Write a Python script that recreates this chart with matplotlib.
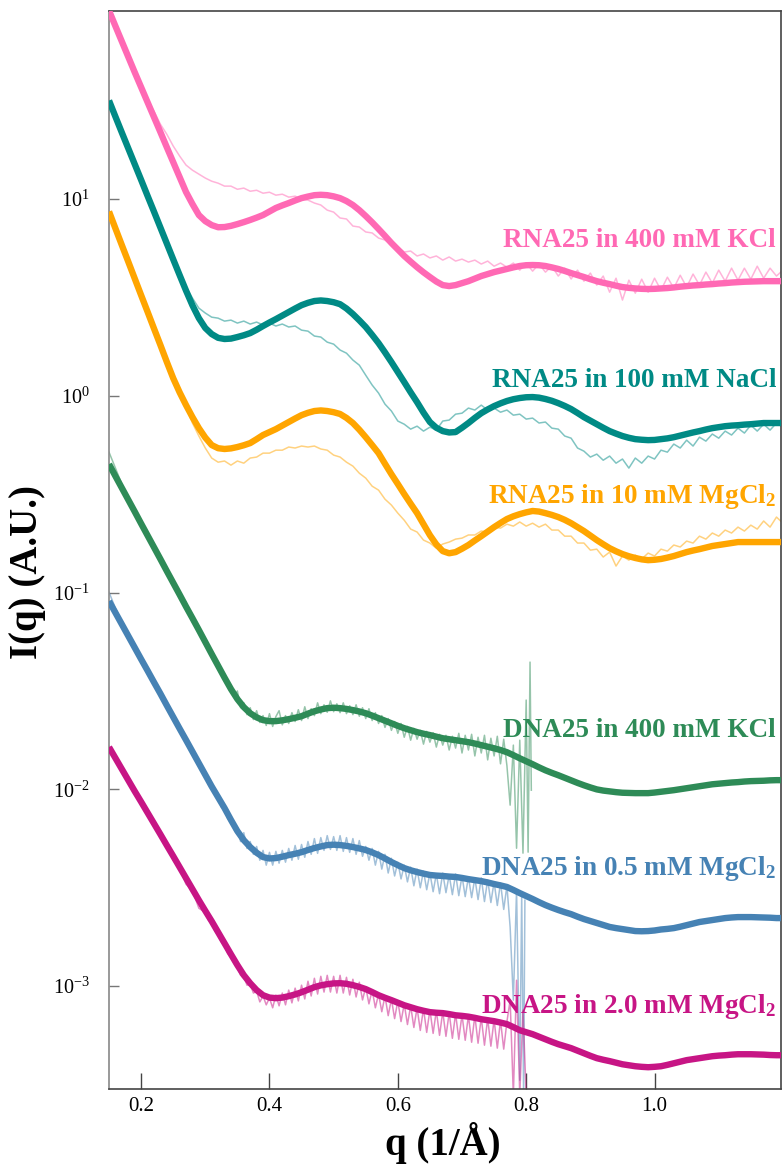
import numpy as np
import matplotlib
matplotlib.use("Agg")
import matplotlib.pyplot as plt
from matplotlib.ticker import FixedLocator, NullLocator, FixedFormatter

plt.rcParams['font.family'] = ['Liberation Serif', 'DejaVu Serif']
plt.rcParams['mathtext.fontset'] = 'custom'
plt.rcParams['mathtext.rm'] = 'Liberation Serif'
plt.rcParams['mathtext.bf'] = 'Liberation Serif:bold'
plt.rcParams['mathtext.default'] = 'regular'

# sampling grids (q in 1/A) at which the curves were read
q_fit = np.round(np.arange(0.15, 1.215, 0.01), 3)
q_rna = np.round(np.arange(0.15, 1.205, 0.01), 3)
q_dna_lo = np.round(np.arange(0.15, 0.295, 0.01), 3)
q_dna_hi = np.round(np.arange(0.30, 0.7725, 0.005), 3)

# smooth model curves, log10 I(q)
fit_rna_kcl = [1.958, 1.879, 1.801, 1.723, 1.645, 1.569, 1.493, 1.417, 1.341, 1.264,
               1.188, 1.112, 1.036, 0.975, 0.919, 0.888, 0.868, 0.857, 0.858, 0.864,
               0.873, 0.883, 0.894, 0.906, 0.919, 0.937, 0.955, 0.968, 0.980, 0.993,
               1.005, 1.013, 1.020, 1.022, 1.020, 1.014, 1.005, 0.990, 0.970, 0.944,
               0.914, 0.882, 0.848, 0.813, 0.777, 0.744, 0.711, 0.682, 0.654, 0.628,
               0.604, 0.581, 0.563, 0.558, 0.563, 0.573, 0.583, 0.596, 0.609, 0.619,
               0.629, 0.637, 0.645, 0.653, 0.660, 0.664, 0.665, 0.664, 0.660, 0.653,
               0.645, 0.635, 0.624, 0.614, 0.604, 0.593, 0.583, 0.575, 0.568, 0.560,
               0.553, 0.549, 0.546, 0.544, 0.543, 0.544, 0.546, 0.548, 0.551, 0.555,
               0.558, 0.561, 0.563, 0.566, 0.568, 0.571, 0.573, 0.576, 0.578, 0.580,
               0.581, 0.582, 0.583, 0.583, 0.583, 0.583, 0.583]
fit_rna_nacl = [1.501, 1.419, 1.338, 1.258, 1.178, 1.098, 1.017, 0.937, 0.856, 0.775,
                0.694, 0.614, 0.535, 0.460, 0.395, 0.345, 0.314, 0.295, 0.289, 0.291,
                0.299, 0.308, 0.319, 0.336, 0.355, 0.373, 0.390, 0.408, 0.426, 0.444,
                0.461, 0.473, 0.482, 0.485, 0.482, 0.476, 0.466, 0.444, 0.416, 0.384,
                0.350, 0.310, 0.268, 0.221, 0.172, 0.121, 0.070, 0.018, -0.032, -0.085,
                -0.133, -0.162, -0.179, -0.186, -0.184, -0.162, -0.138, -0.112, -0.088, -0.069,
                -0.052, -0.038, -0.026, -0.017, -0.011, -0.007, -0.006, -0.009, -0.016, -0.025,
                -0.037, -0.051, -0.067, -0.087, -0.108, -0.126, -0.144, -0.162, -0.179, -0.192,
                -0.204, -0.213, -0.220, -0.223, -0.225, -0.224, -0.220, -0.216, -0.210, -0.202,
                -0.194, -0.186, -0.179, -0.171, -0.164, -0.159, -0.154, -0.151, -0.149, -0.146,
                -0.144, -0.141, -0.138, -0.138, -0.138, -0.138, -0.138]
fit_rna_mg = [0.937, 0.851, 0.766, 0.682, 0.597, 0.512, 0.428, 0.343, 0.259, 0.173,
              0.090, 0.018, -0.047, -0.108, -0.164, -0.212, -0.250, -0.266, -0.270, -0.267,
              -0.260, -0.251, -0.240, -0.220, -0.199, -0.184, -0.169, -0.151, -0.133, -0.115,
              -0.098, -0.086, -0.077, -0.074, -0.077, -0.083, -0.092, -0.112, -0.138, -0.172,
              -0.210, -0.250, -0.291, -0.345, -0.398, -0.448, -0.499, -0.548, -0.596, -0.652,
              -0.708, -0.755, -0.789, -0.800, -0.794, -0.777, -0.758, -0.735, -0.713, -0.690,
              -0.667, -0.646, -0.626, -0.612, -0.601, -0.592, -0.585, -0.588, -0.596, -0.605,
              -0.616, -0.630, -0.647, -0.667, -0.687, -0.710, -0.733, -0.754, -0.774, -0.790,
              -0.804, -0.815, -0.824, -0.831, -0.835, -0.833, -0.829, -0.822, -0.814, -0.804,
              -0.794, -0.786, -0.779, -0.771, -0.763, -0.758, -0.753, -0.748, -0.743, -0.743,
              -0.743, -0.743, -0.743, -0.743, -0.743, -0.743, -0.743]
fit_dna_kcl = [-0.347, -0.408, -0.468, -0.528, -0.588, -0.649, -0.709, -0.769, -0.829, -0.890,
               -0.950, -1.010, -1.071, -1.130, -1.190, -1.251, -1.312, -1.372, -1.432, -1.490,
               -1.541, -1.582, -1.613, -1.634, -1.648, -1.653, -1.653, -1.649, -1.643, -1.636,
               -1.628, -1.615, -1.603, -1.594, -1.587, -1.585, -1.587, -1.591, -1.597, -1.604,
               -1.613, -1.625, -1.638, -1.651, -1.664, -1.677, -1.689, -1.699, -1.709, -1.717,
               -1.724, -1.732, -1.740, -1.745, -1.750, -1.755, -1.760, -1.767, -1.775, -1.783,
               -1.791, -1.800, -1.811, -1.826, -1.842, -1.857, -1.872, -1.888, -1.903, -1.916,
               -1.928, -1.941, -1.954, -1.967, -1.979, -1.990, -2.000, -2.006, -2.010, -2.014,
               -2.017, -2.018, -2.019, -2.019, -2.019, -2.016, -2.012, -2.008, -2.004, -1.999,
               -1.994, -1.989, -1.984, -1.979, -1.974, -1.971, -1.968, -1.965, -1.963, -1.960,
               -1.958, -1.957, -1.956, -1.954, -1.953, -1.953, -1.953]
fit_dna_mg05 = [-1.043, -1.102, -1.161, -1.220, -1.279, -1.338, -1.396, -1.455, -1.513, -1.573,
                -1.632, -1.691, -1.749, -1.808, -1.867, -1.926, -1.985, -2.040, -2.095, -2.155,
                -2.212, -2.258, -2.293, -2.322, -2.344, -2.351, -2.349, -2.342, -2.334, -2.327,
                -2.319, -2.308, -2.298, -2.290, -2.283, -2.281, -2.283, -2.287, -2.293, -2.300,
                -2.308, -2.320, -2.334, -2.351, -2.369, -2.385, -2.400, -2.411, -2.420, -2.428,
                -2.435, -2.438, -2.440, -2.443, -2.445, -2.450, -2.456, -2.461, -2.466, -2.473,
                -2.481, -2.488, -2.496, -2.511, -2.527, -2.542, -2.557, -2.573, -2.588, -2.601,
                -2.613, -2.624, -2.634, -2.647, -2.659, -2.669, -2.679, -2.689, -2.699, -2.705,
                -2.710, -2.715, -2.720, -2.721, -2.720, -2.717, -2.712, -2.709, -2.705, -2.698,
                -2.690, -2.682, -2.674, -2.669, -2.664, -2.659, -2.654, -2.651, -2.649, -2.649,
                -2.649, -2.650, -2.651, -2.652, -2.654, -2.654, -2.654]
fit_dna_mg20 = [-1.785, -1.841, -1.897, -1.953, -2.009, -2.063, -2.118, -2.173, -2.228, -2.284,
                -2.339, -2.395, -2.451, -2.507, -2.563, -2.617, -2.670, -2.726, -2.782, -2.838,
                -2.893, -2.944, -2.985, -3.020, -3.046, -3.058, -3.061, -3.058, -3.051, -3.042,
                -3.031, -3.018, -3.005, -2.996, -2.990, -2.986, -2.985, -2.988, -2.995, -3.004,
                -3.015, -3.030, -3.046, -3.059, -3.071, -3.084, -3.097, -3.107, -3.117, -3.125,
                -3.132, -3.135, -3.137, -3.142, -3.148, -3.151, -3.155, -3.161, -3.168, -3.173,
                -3.178, -3.185, -3.193, -3.208, -3.224, -3.234, -3.244, -3.257, -3.270, -3.283,
                -3.295, -3.305, -3.315, -3.328, -3.341, -3.354, -3.366, -3.374, -3.381, -3.389,
                -3.397, -3.402, -3.407, -3.410, -3.412, -3.410, -3.407, -3.400, -3.392, -3.384,
                -3.376, -3.371, -3.366, -3.361, -3.356, -3.353, -3.351, -3.348, -3.346, -3.346,
                -3.346, -3.347, -3.348, -3.350, -3.351, -3.351, -3.351]

# measured curves, log10 I(q)
dat_rna_kcl = [1.958, 1.879, 1.801, 1.723, 1.645, 1.569, 1.498, 1.447, 1.381, 1.330,
               1.270, 1.219, 1.173, 1.147, 1.127, 1.107, 1.091, 1.081, 1.066, 1.066,
               1.050, 1.056, 1.040, 1.045, 1.030, 1.035, 1.020, 1.025, 1.010, 1.015,
               1.000, 0.995, 0.980, 0.970, 0.944, 0.934, 0.904, 0.899, 0.863, 0.858,
               0.833, 0.828, 0.802, 0.792, 0.767, 0.757, 0.731, 0.736, 0.711, 0.721,
               0.701, 0.711, 0.690, 0.706, 0.685, 0.695, 0.680, 0.690, 0.670, 0.685,
               0.659, 0.675, 0.654, 0.675, 0.639, 0.675, 0.634, 0.670, 0.629, 0.659,
               0.609, 0.649, 0.594, 0.639, 0.583, 0.624, 0.563, 0.609, 0.527, 0.598,
               0.487, 0.588, 0.522, 0.593, 0.527, 0.598, 0.537, 0.603, 0.548, 0.613,
               0.553, 0.619, 0.563, 0.629, 0.573, 0.639, 0.583, 0.649, 0.588, 0.649,
               0.593, 0.659, 0.598, 0.649, 0.609, 0.639]
dat_rna_nacl = [1.501, 1.419, 1.338, 1.258, 1.178, 1.098, 1.017, 0.937, 0.856, 0.775,
                0.694, 0.619, 0.553, 0.497, 0.446, 0.421, 0.400, 0.395, 0.380, 0.385,
                0.370, 0.380, 0.365, 0.375, 0.360, 0.370, 0.355, 0.365, 0.350, 0.355,
                0.334, 0.329, 0.304, 0.299, 0.273, 0.263, 0.233, 0.217, 0.182, 0.156,
                0.105, 0.055, 0.014, -0.042, -0.077, -0.128, -0.144, -0.169, -0.154, -0.179,
                -0.159, -0.174, -0.128, -0.123, -0.093, -0.088, -0.062, -0.072, -0.047, -0.072,
                -0.062, -0.083, -0.072, -0.098, -0.093, -0.118, -0.113, -0.138, -0.133, -0.164,
                -0.169, -0.204, -0.215, -0.265, -0.281, -0.311, -0.296, -0.327, -0.306, -0.342,
                -0.321, -0.367, -0.316, -0.342, -0.306, -0.321, -0.276, -0.286, -0.245, -0.265,
                -0.225, -0.255, -0.210, -0.230, -0.194, -0.215, -0.179, -0.199, -0.164, -0.189,
                -0.149, -0.179, -0.144, -0.174, -0.138, -0.159]
dat_rna_mg = [0.937, 0.851, 0.766, 0.682, 0.597, 0.512, 0.428, 0.343, 0.259, 0.173,
              0.090, 0.014, -0.057, -0.138, -0.204, -0.265, -0.316, -0.337, -0.331, -0.352,
              -0.331, -0.342, -0.316, -0.311, -0.291, -0.291, -0.276, -0.276, -0.260, -0.265,
              -0.255, -0.260, -0.255, -0.270, -0.276, -0.301, -0.311, -0.337, -0.357, -0.393,
              -0.418, -0.459, -0.479, -0.525, -0.555, -0.596, -0.632, -0.677, -0.692, -0.733,
              -0.748, -0.774, -0.753, -0.743, -0.728, -0.723, -0.707, -0.707, -0.687, -0.692,
              -0.667, -0.672, -0.652, -0.662, -0.641, -0.662, -0.647, -0.667, -0.652, -0.682,
              -0.682, -0.713, -0.713, -0.748, -0.748, -0.784, -0.779, -0.819, -0.794, -0.865,
              -0.814, -0.835, -0.809, -0.829, -0.799, -0.814, -0.779, -0.789, -0.758, -0.768,
              -0.738, -0.748, -0.713, -0.728, -0.697, -0.713, -0.682, -0.697, -0.667, -0.687,
              -0.657, -0.677, -0.636, -0.667, -0.616, -0.647]

# DNA measurements: 0.15-0.29 every 0.01, then 0.300-0.770 every 0.005, then the noisy tail
dna_kcl_lo = [-0.286, -0.367, -0.449, -0.520, -0.586, -0.647, -0.708, -0.769, -0.830, -0.891,
              -0.952, -1.018, -1.048, -1.150, -1.170]
dna_kcl_hi = [-1.236, -1.300, -1.295, -1.360, -1.350, -1.415, -1.425, -1.480, -1.470, -1.530,
              -1.500, -1.585, -1.560, -1.620, -1.585, -1.645, -1.600, -1.660, -1.625, -1.675,
              -1.615, -1.680, -1.630, -1.600, -1.672, -1.625, -1.665, -1.610, -1.655, -1.595,
              -1.650, -1.580, -1.640, -1.590, -1.625, -1.560, -1.615, -1.570, -1.608, -1.550,
              -1.605, -1.565, -1.610, -1.560, -1.615, -1.575, -1.620, -1.570, -1.628, -1.585,
              -1.640, -1.590, -1.650, -1.610, -1.665, -1.625, -1.685, -1.640, -1.700, -1.655,
              -1.715, -1.665, -1.735, -1.680, -1.750, -1.690, -1.745, -1.700, -1.770, -1.705,
              -1.760, -1.712, -1.785, -1.720, -1.775, -1.725, -1.800, -1.730, -1.790, -1.715,
              -1.815, -1.725, -1.800, -1.720, -1.830, -1.735, -1.815, -1.725, -1.850, -1.740,
              -1.830, -1.730, -1.870, -1.745, -1.880]
q_tail_kcl = [0.775, 0.78, 0.785, 0.79, 0.795, 0.80, 0.803, 0.806, 0.808]
dna_kcl_tail = [-2.080, -1.775, -2.299, -1.750, -2.324, -1.546, -2.319, -1.353, -2.004]

dna_mg05_lo = [-0.998, -1.079, -1.150, -1.219, -1.277, -1.338, -1.394, -1.455, -1.511, -1.572,
               -1.633, -1.689, -1.750, -1.806, -1.877]
dna_mg05_hi = [-1.915, -1.975, -1.975, -2.030, -2.032, -2.090, -2.088, -2.150, -2.145, -2.205,
               -2.200, -2.265, -2.220, -2.300, -2.265, -2.330, -2.290, -2.360, -2.310, -2.385,
               -2.320, -2.385, -2.315, -2.375, -2.310, -2.370, -2.300, -2.360, -2.285, -2.355,
               -2.280, -2.345, -2.265, -2.330, -2.250, -2.325, -2.245, -2.310, -2.235, -2.305,
               -2.240, -2.310, -2.235, -2.315, -2.245, -2.320, -2.250, -2.330, -2.260, -2.340,
               -2.290, -2.360, -2.300, -2.385, -2.315, -2.405, -2.330, -2.425, -2.350, -2.440,
               -2.370, -2.455, -2.385, -2.470, -2.395, -2.490, -2.405, -2.500, -2.415, -2.510,
               -2.425, -2.520, -2.430, -2.530, -2.425, -2.525, -2.435, -2.535, -2.430, -2.540,
               -2.440, -2.545, -2.445, -2.550, -2.450, -2.560, -2.450, -2.570, -2.460, -2.575,
               -2.470, -2.590, -2.475, -2.610, -2.490]
q_tail_mg05 = [0.775, 0.78, 0.785, 0.79, 0.793, 0.796, 0.798]
dna_mg05_tail = [-2.700, -3.071, -2.512, -3.478, -2.538, -3.554, -2.563]

dna_mg20_lo = [-1.780, -1.836, -1.892, -1.948, -2.004, -2.060, -2.116, -2.177, -2.233, -2.289,
               -2.360, -2.400, -2.482, -2.512, -2.604]
dna_mg20_hi = [-2.625, -2.665, -2.680, -2.720, -2.740, -2.775, -2.795, -2.835, -2.850, -2.885,
               -2.905, -2.945, -2.950, -2.995, -2.990, -3.035, -3.025, -3.080, -3.050, -3.095,
               -3.060, -3.110, -3.045, -3.100, -3.035, -3.095, -3.020, -3.085, -3.010, -3.075,
               -2.995, -3.065, -2.975, -3.050, -2.960, -3.040, -2.950, -3.030, -2.945, -3.030,
               -2.950, -3.035, -2.945, -3.035, -2.955, -3.045, -2.965, -3.055, -2.980, -3.070,
               -3.005, -3.090, -3.020, -3.110, -3.040, -3.130, -3.050, -3.150, -3.065, -3.165,
               -3.075, -3.180, -3.090, -3.195, -3.100, -3.210, -3.110, -3.225, -3.115, -3.235,
               -3.120, -3.240, -3.125, -3.250, -3.130, -3.255, -3.135, -3.265, -3.140, -3.270,
               -3.145, -3.275, -3.150, -3.285, -3.150, -3.290, -3.160, -3.300, -3.165, -3.305,
               -3.170, -3.315, -3.175, -3.320, -3.180]
q_tail_mg20 = [0.775, 0.78, 0.785, 0.79, 0.795, 0.80]
dna_mg20_tail = [-3.071, -3.554, -2.970, -3.554, -3.122, -3.554]

labels = ['RNA25 in 400 mM KCl', 'RNA25 in 100 mM NaCl', r'RNA25 in 10 mM MgCl$_\mathbf{2}$',
          'DNA25 in 400 mM KCl', r'DNA25 in 0.5 mM MgCl$_\mathbf{2}$', r'DNA25 in 2.0 mM MgCl$_\mathbf{2}$']
colors = ['#FF69B4', '#008A85', '#FFA500', '#2E8B57', '#4682B4', '#C71585']
label_y = [0.781, 0.651, 0.5436, 0.3265, 0.1985, 0.0705]

fits = [fit_rna_kcl, fit_rna_nacl, fit_rna_mg, fit_dna_kcl, fit_dna_mg05, fit_dna_mg20]
data = [(q_rna, dat_rna_kcl), (q_rna, dat_rna_nacl), (q_rna, dat_rna_mg),
        (np.r_[q_dna_lo, q_dna_hi, q_tail_kcl], dna_kcl_lo + dna_kcl_hi + dna_kcl_tail),
        (np.r_[q_dna_lo, q_dna_hi, q_tail_mg05], dna_mg05_lo + dna_mg05_hi + dna_mg05_tail),
        (np.r_[q_dna_lo, q_dna_hi, q_tail_mg20], dna_mg20_lo + dna_mg20_hi + dna_mg20_tail)]
data_lw = [1.1, 1.1, 1.1, 1.1, 1.1, 1.1]

fig = plt.figure(figsize=(7.82, 11.65), dpi=100)
ax = fig.add_axes([0.1394, 0.0652, 0.8593, 0.9253])

for i in range(6):
    qd, ld = data[i]
    ax.plot(qd, 10 ** np.array(ld), color=colors[i], lw=data_lw[i], alpha=0.5, zorder=2)
for i in range(6):
    ax.plot(q_fit, 10 ** np.array(fits[i]), color=colors[i], lw=4.6,
            solid_joinstyle='round', solid_capstyle='butt', zorder=3)
    ax.text(0.9926, label_y[i], labels[i], transform=ax.transAxes, ha='right',
            va='baseline', fontsize=19.5, fontweight='bold', color=colors[i], zorder=4)

ax.set_yscale('log')
ax.set_xlim(0.15, 1.197)
ax.set_ylim(3.0e-4, 90.3)

ax.xaxis.set_major_locator(FixedLocator([0.2, 0.4, 0.6, 0.8, 1.0]))
ax.xaxis.set_major_formatter(FixedFormatter(['0.2', '0.4', '0.6', '0.8', '1.0']))
ax.xaxis.set_minor_locator(NullLocator())
ax.yaxis.set_major_locator(FixedLocator([1e-3, 1e-2, 1e-1, 1e0, 1e1]))
ax.yaxis.set_major_formatter(FixedFormatter([r'$10^{-3}$', r'$10^{-2}$', r'$10^{-1}$',
                                             r'$10^{0}$', r'$10^{1}$']))
ax.yaxis.set_minor_locator(NullLocator())

ax.tick_params(axis='x', direction='in', length=11.5, width=1.0, color='#444444',
               labelsize=15, pad=6, top=False)
ax.tick_params(axis='y', direction='in', length=7, width=1.0, color='#777777',
               labelsize=14.5, pad=14, right=False)
for side in ['top', 'right', 'bottom']:
    ax.spines[side].set_color('#444444')
    ax.spines[side].set_linewidth(1.2)
ax.spines['left'].set_color('#888888')
ax.spines['left'].set_linewidth(1.2)

fig.text(28 / 782, 1 - 572 / 1165, 'I(q) (A.U.)', rotation=90, ha='center', va='center',
         fontsize=28, fontweight='bold')
fig.text(443 / 782, 1 - 1143 / 1165, 'q (1/Å)', ha='center', va='center',
         fontsize=28, fontweight='bold')

fig.savefig('out.png', dpi=100)
